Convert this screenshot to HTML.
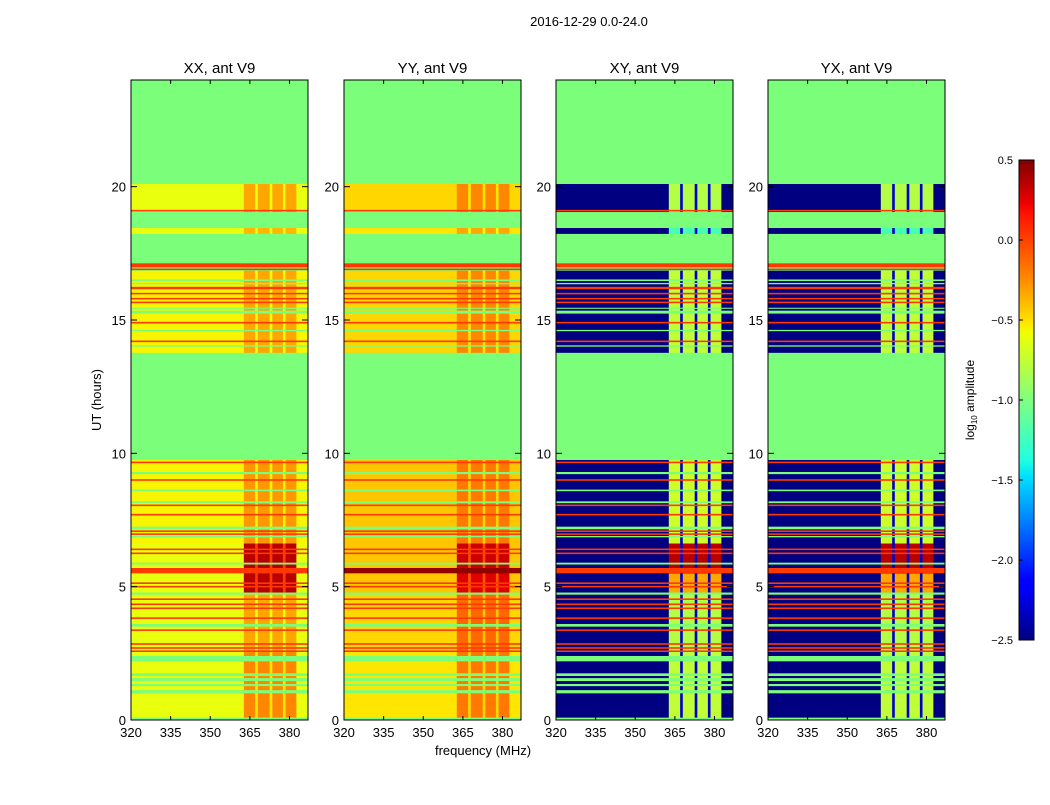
<!DOCTYPE html>
<html><head><meta charset="utf-8">
<style>
body{margin:0;background:#fff;}
svg text{font-family:"Liberation Sans","DejaVu Sans",sans-serif;}
</style></head>
<body>
<svg id="fig" width="1050" height="800" xmlns="http://www.w3.org/2000/svg">
<defs>
<linearGradient id="jet" x1="0" y1="1" x2="0" y2="0">
<stop offset="0" stop-color="#000080"/><stop offset="0.11" stop-color="#0000ff"/>
<stop offset="0.125" stop-color="#0000ff"/><stop offset="0.34" stop-color="#00e0ff"/>
<stop offset="0.375" stop-color="#20ffdf"/><stop offset="0.5" stop-color="#80ff80"/>
<stop offset="0.64" stop-color="#f0ff00"/><stop offset="0.66" stop-color="#ffe600"/>
<stop offset="0.75" stop-color="#ff8c00"/><stop offset="0.89" stop-color="#ff1000"/>
<stop offset="0.91" stop-color="#ee0000"/><stop offset="1" stop-color="#800000"/>
</linearGradient>
</defs>
<text x="589" y="26" font-size="13" text-anchor="middle">2016-12-29 0.0-24.0</text>
<text x="483" y="755" font-size="13" text-anchor="middle">frequency (MHz)</text>
<text x="101" y="400" font-size="13" text-anchor="middle" transform="rotate(-90 101 400)">UT (hours)</text>
<g id="panels"></g>
<g id="cbar"></g>
</svg>
<script>
// ---- data (hours, MHz, log10 amplitude) ----
const panelTitles = ["XX, ant V9","YY, ant V9","XY, ant V9","YX, ant V9"];
const xTicks = [320,335,350,365,380];
const yTicks = [0,5,10,15,20];
const cbarTicks = [0.5,0.0,-0.5,-1.0,-1.5,-2.0,-2.5];
const cbarLabels = ["0.5","0.0","\u22120.5","\u22121.0","\u22121.5","\u22122.0","\u22122.5"];
const dataStart = [0.1,2.55,4.75,5.5,6.63,13.78,18.24,19.06];
const dataEnd   = [2.55,4.75,5.5,6.63,9.75,16.85,18.45,20.1];
const xxLo = [-0.6,-0.6,-0.6,-0.6,-0.55,-0.55,-0.6,-0.6];
const xxHi = [-0.2,-0.3,0.35,0.35,-0.25,-0.3,-0.35,-0.3];
const yyLo = [-0.5,-0.45,-0.4,-0.4,-0.4,-0.45,-0.5,-0.45];
const yyHi = [-0.15,-0.1,0.25,0.3,-0.15,-0.2,-0.3,-0.2];
const crHi = [-0.75,-0.8,-0.3,0.35,-0.7,-0.75,-1.2,-0.8];
const crLo = -2.5;
const segStart = [320,362.7,367,368,372.5,373.5,377.5,378.5,382.6];
const segEnd   = [362.7,367,368,372.5,373.5,377.5,378.5,382.6,387];
const segType  = ["L","H","G","H","G","H","G","H","L"];
const flagStart = [1.0,1.27,1.46,1.65,2.2,3.5,4.7,5.83,6.85,7.15,8.13,8.58,9.22,14.0,14.58,15.24,15.42,16.34,16.46];
const flagEnd   = [1.12,1.35,1.57,1.75,2.4,3.6,4.78,5.9,6.9,7.25,8.2,8.64,9.3,14.05,14.63,15.35,15.46,16.39,16.52];
const rfiHour = [9.66,9.0,8.05,7.7,7.08,6.97,6.4,6.25,5.6,5.13,5.0,4.53,4.34,4.19,3.82,3.37,2.85,2.7,2.58,19.1,17.05,16.9,16.2,15.99,15.8,15.66,14.9,14.2];
const rfiWidth = [0.06,0.06,0.06,0.06,0.06,0.06,0.06,0.06,0.2,0.06,0.06,0.06,0.06,0.06,0.06,0.06,0.06,0.06,0.06,0.06,0.15,0.06,0.09,0.06,0.06,0.06,0.06,0.06];
const rfiValue = 0.05;
// ---- layout ----
const panelX = [131,344,556,768], PW = 177, PT = 80, PB = 720;
const FMIN = 320, FMAX = 387, HMIN = 0, HMAX = 24;
const VMIN = -2.5, VMAX = 0.5;
function jet(v){
  let t = Math.max(0,Math.min(1,(v-VMIN)/(VMAX-VMIN)));
  function interp(pts){for(let i=1;i<pts.length;i++){if(t<=pts[i][0]){const a=pts[i-1],b=pts[i];return a[1]+(b[1]-a[1])*(t-a[0])/(b[0]-a[0]);}}return pts[pts.length-1][1];}
  const r=interp([[0,0],[0.35,0],[0.66,1],[0.89,1],[1,0.5]]);
  const g=interp([[0,0],[0.125,0],[0.375,1],[0.64,1],[0.91,0],[1,0]]);
  const b=interp([[0,0.5],[0.11,1],[0.34,1],[0.65,0],[1,0]]);
  return `rgb(${Math.round(r*255)},${Math.round(g*255)},${Math.round(b*255)})`;
}
const NS="http://www.w3.org/2000/svg";
function mk(tag,attrs,parent){const e=document.createElementNS(NS,tag);for(const k in attrs)e.setAttribute(k,attrs[k]);parent.appendChild(e);return e;}
const panels=document.getElementById('panels');
panelX.forEach((x0,p)=>{
  const xs=f=>x0+(f-FMIN)/(FMAX-FMIN)*PW;
  const ys=h=>PB-(h-HMIN)/(HMAX-HMIN)*(PB-PT);
  const g=mk('g',{},panels);
  
  
  const bg=mk('rect',{x:x0,y:PT,width:PW,height:PB-PT,fill:jet(-1.0)},g);
  
  
  const cross=p>=2;
  dataStart.forEach((s,i)=>{
    const lo = p===0?xxLo[i]:p===1?yyLo[i]:crLo;
    const hi = p===0?xxHi[i]:p===1?yyHi[i]:crHi[i];
    segStart.forEach((fs,j)=>{
      let v = segType[j]==="L"?lo:segType[j]==="H"?hi:(cross?-2.3:hi-0.3);
      const r=mk('rect',{x:xs(fs),y:ys(dataEnd[i]),width:xs(segEnd[j])-xs(fs)+0.3,height:ys(s)-ys(dataEnd[i])+0.3,fill:jet(v)},g);
      
      
    });
  });
  flagStart.forEach((s,i)=>{
    const r=mk('rect',{x:x0,y:ys(flagEnd[i]),width:PW,height:ys(s)-ys(flagEnd[i]),fill:jet(-1.0)},g);
    
    
  });
  rfiHour.forEach((h,i)=>{
    const hw=Math.max(rfiWidth[i],0.05);
    const v=(p===1&&hw>0.15)?0.45:rfiValue;
    const r=mk('rect',{x:x0,y:ys(h+hw/2),width:PW,height:ys(h-hw/2)-ys(h+hw/2),fill:jet(v)},g);
    
    
  });
  const fr=mk('rect',{x:x0,y:PT,width:PW,height:PB-PT,fill:'none',stroke:'#000','stroke-width':1},g);
  
  
  xTicks.forEach(t=>{
    const x=xs(t);
    mk('line',{x1:x,y1:PB,x2:x,y2:PB-4,stroke:'#000'},g);
    mk('line',{x1:x,y1:PT,x2:x,y2:PT+4,stroke:'#000'},g);
    const tx=mk('text',{x:x,y:PB+17,'font-size':13,'text-anchor':'middle'},g);
    tx.textContent=t;
    
    
  });
  yTicks.forEach(t=>{
    const y=ys(t);
    mk('line',{x1:x0,y1:y,x2:x0+6,y2:y,stroke:'#000'},g);
    mk('line',{x1:x0+PW,y1:y,x2:x0+PW-6,y2:y,stroke:'#000'},g);
    const tx=mk('text',{x:x0-5,y:y+5,'font-size':13,'text-anchor':'end'},g);
    tx.textContent=t;
    
    
  });
  const ti=mk('text',{x:x0+PW/2,y:PT-7,'font-size':15,'text-anchor':'middle'},g);
  ti.textContent=panelTitles[p];
  
  
});
// colorbar
const cb=document.getElementById('cbar');
const CX=1019,CW=15,CT=160,CB=640;
const cys=v=>CB-(v-VMIN)/(VMAX-VMIN)*(CB-CT);
mk('rect',{x:CX,y:CT,width:CW,height:CB-CT,fill:'url(#jet)',stroke:'#000','stroke-width':1},cb);
cbarTicks.forEach((v,i)=>{
  const y=cys(v);
  mk('line',{x1:CX,y1:y,x2:CX+4,y2:y,stroke:'#000'},cb);
  const tx=mk('text',{x:CX-6,y:y+4,'font-size':11,'text-anchor':'end'},cb);
  tx.textContent=cbarLabels[i];
  
  
});
const cl=mk('text',{x:974,y:400,'font-size':12,'text-anchor':'middle',transform:'rotate(-90 974 400)'},cb);
cl.innerHTML='log<tspan font-size="8" dy="3">10</tspan><tspan dy="-3"> amplitude</tspan>';


</script>
</body></html>
